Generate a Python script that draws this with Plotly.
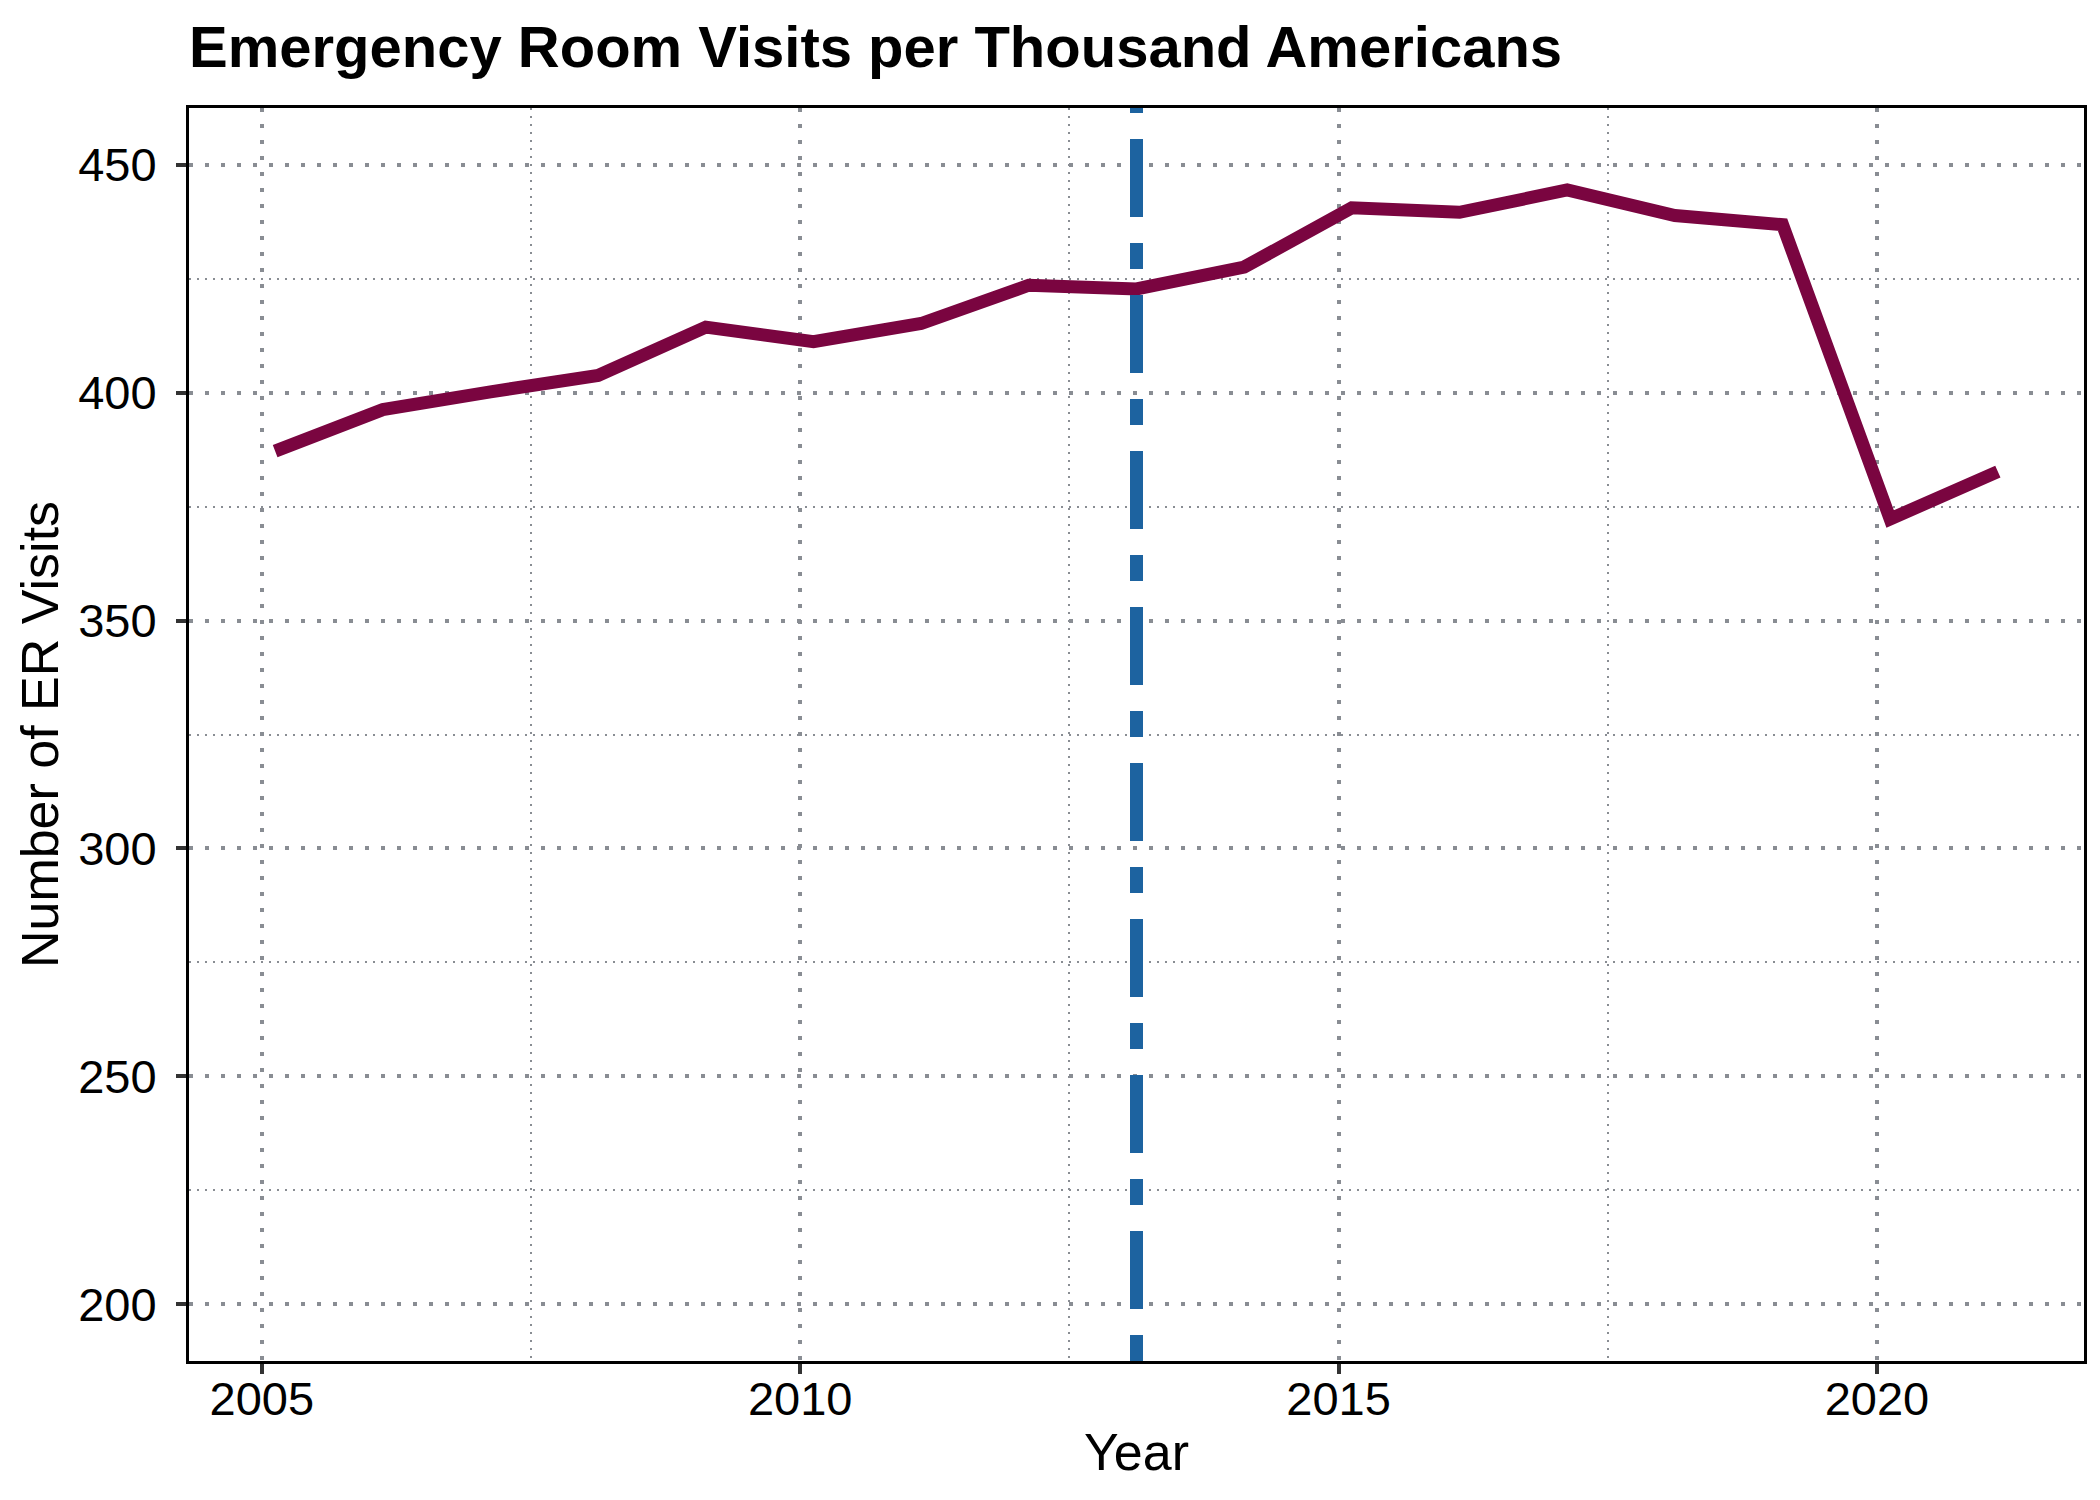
import pandas as pd
import plotly.graph_objects as go

# ---- data ----
obs_dates = ["2005-02-15", "2006-02-15", "2007-02-15", "2008-02-15", "2009-02-15",
             "2010-02-15", "2011-02-15", "2012-02-15", "2013-02-15", "2014-02-15",
             "2015-02-15", "2016-02-15", "2017-02-15", "2018-02-15", "2019-02-15",
             "2020-02-15", "2021-02-15"]
er_visits = [387.2, 396.3, 400.2, 403.8, 414.4, 411.2, 415.2, 423.6, 422.8, 427.6,
             440.6, 439.6, 444.5, 438.9, 436.9, 372.3, 382.7]
policy_date = "2013-02-15"

x_major = [2005, 2010, 2015, 2020]
x_minor = [2007.5, 2012.5, 2017.5]
y_major = [200, 250, 300, 350, 400, 450]
y_minor = [225, 275, 325, 375, 425]
y_limits = [200, 450]

title_text = "Emergency Room Visits per Thousand Americans"
x_title = "Year"
y_title = "Number of ER Visits"


def decimal_year(s):
    d = pd.Timestamp(s)
    days = 366 if d.is_leap_year else 365
    return d.year + (d.dayofyear - 1) / days


xs = [decimal_year(d) for d in obs_dates]
x_policy = decimal_year(policy_date)

# ggplot-style 5% expansion
xpad = 0.05 * (max(xs) - min(xs))
x_range = [min(xs) - xpad, max(xs) + xpad]
ypad = 0.05 * (y_limits[1] - y_limits[0])
y_range = [y_limits[0] - ypad, y_limits[1] + ypad]

GRID = "#898d93"
FONT = "Liberation Sans, Arial, sans-serif"

fig = go.Figure()
fig.add_trace(go.Scatter(
    x=xs, y=er_visits, mode="lines",
    line=dict(color="#7a0540", width=13),
    hoverinfo="x+y", showlegend=False,
))

fig.add_shape(
    type="line", xref="x", yref="paper",
    x0=x_policy, x1=x_policy, y0=0, y1=1,
    line=dict(color="#1d63a0", width=13, dash="26px,26px,78px,26px"),
    layer="above",
)

axis_common = dict(
    showline=True, linecolor="black", linewidth=3, mirror=True,
    ticks="outside", ticklen=10, tickwidth=4, tickcolor="#333333",
    showgrid=True, gridcolor=GRID, gridwidth=4, griddash="4px,12px",
    zeroline=False,
    tickfont=dict(family=FONT, size=47, color="black"),
    automargin=False,
)

fig.update_xaxes(
    **axis_common,
    range=x_range,
    tickmode="array", tickvals=x_major, ticktext=[str(v) for v in x_major],
    minor=dict(tickvals=x_minor, showgrid=True, gridcolor=GRID, gridwidth=2,
               griddash="2px,6px", ticks=""),
    title=dict(text=x_title, font=dict(family=FONT, size=52, color="black"), standoff=10),
    ticklabelstandoff=-15,
)
fig.update_yaxes(
    **axis_common,
    range=y_range,
    tickmode="array", tickvals=y_major, ticktext=[str(v) for v in y_major],
    minor=dict(tickvals=y_minor, showgrid=True, gridcolor=GRID, gridwidth=2,
               griddash="2px,6px", ticks=""),
    title=dict(text=y_title, font=dict(family=FONT, size=52, color="black"), standoff=3),
    ticklabelstandoff=10,
)

fig.update_layout(
    width=2100, height=1500,
    margin=dict(l=181, r=24, t=100, b=147),
    paper_bgcolor="white", plot_bgcolor="white",
    title=dict(text="<b>" + title_text + "</b>",
               font=dict(family=FONT, size=58, color="black"),
               x=181 / 2100, xanchor="left", xref="container",
               y=1 - 39 / 1500, yanchor="middle", yref="container"),
    showlegend=False,
)

fig.write_html("out.html")
